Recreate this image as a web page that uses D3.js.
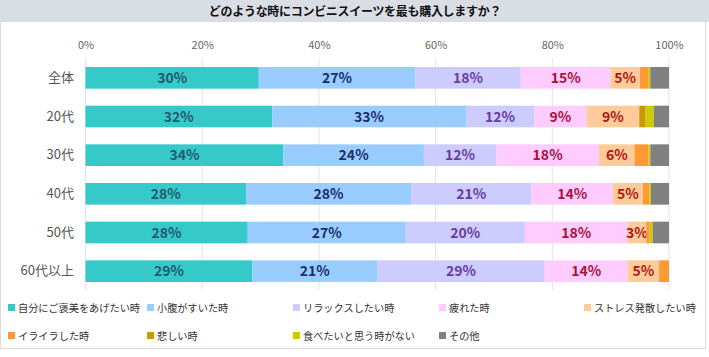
<!DOCTYPE html>
<html><head><meta charset="utf-8">
<script src="https://cdn.jsdelivr.net/npm/d3@7"></script>
<style>body{margin:0;background:#fff;}svg{display:block;font-family:"Noto Sans CJK JP","Noto Sans",sans-serif;}</style>
</head><body>
<svg id="c" width="709" height="357"></svg>
<script>
const title = "どのような時にコンビニスイーツを最も購入しますか？";
const categories = ["全体","20代","30代","40代","50代","60代以上"];
const seriesNames = ["自分にご褒美をあげたい時","小腹がすいた時","リラックスしたい時","疲れた時","ストレス発散したい時","イライラした時","悲しい時","食べたいと思う時がない","その他"];
const s1 = [29.7, 32.0, 33.9, 27.5, 27.8, 28.6];
const s2 = [26.8, 33.2, 24.1, 28.3, 27.1, 21.4];
const s3 = [18.1, 11.7, 12.4, 20.6, 20.4, 28.7];
const s4 = [15.4, 9.0, 17.6, 14.0, 17.6, 14.2];
const s5 = [5.0, 9.0, 6.1, 5.1, 3.2, 5.4];
const s6 = [1.4, 0.0, 2.4, 1.1, 0.6, 1.7];
const s7 = [0.1, 1.1, 0.0, 0.0, 0.0, 0.0];
const s8 = [0.3, 1.4, 0.3, 0.3, 0.5, 0.0];
const s9 = [3.2, 2.6, 3.2, 3.1, 2.8, 0.0];
const ticks = [0, 20, 40, 60, 80, 100];

const seriesValues = [s1,s2,s3,s4,s5,s6,s7,s8,s9];
const colors = ["#35c9c9","#99ccff","#ccccff","#ffccff","#ffcc99","#ff9933","#cc9900","#cccc00","#808080"];
const labelColors = ["#245a70","#1b2e6e","#6a3c9e","#a8123e","#b01818",null,null,null,null];

const svg = d3.select("#c");
svg.append("rect").attr("x",0.5).attr("y",0.5).attr("width",705).attr("height",348)
  .attr("fill","#fff").attr("stroke","#dcdcdc");
svg.append("rect").attr("x",0).attr("y",0).attr("width",709).attr("height",22).attr("fill","#d9dde4");
svg.append("text").attr("x",355).attr("y",16).attr("text-anchor","middle")
  .attr("font-size",12).attr("letter-spacing","-0.3").attr("font-weight","bold").attr("fill","#111").text(title);

const x = d3.scaleLinear().domain([0,100]).range([85.5,669]);
const y = d3.scaleBand().domain(categories).range([58.5,290.5]).paddingInner(0.44).paddingOuter(0.22);

svg.append("g").selectAll("line").data(ticks).join("line")
  .attr("x1",d=>x(d)).attr("x2",d=>x(d)).attr("y1",58).attr("y2",290)
  .attr("stroke","#e3e3e3").attr("stroke-width",1);

const ax = svg.append("g").attr("transform","translate(0,49)")
  .call(d3.axisTop(x).tickValues(ticks).tickFormat(d=>d+"%").tickSize(0).tickPadding(0));
ax.select(".domain").remove();
ax.selectAll("text").attr("font-size",11).attr("fill","#666").attr("font-family","'Noto Sans CJK JP',sans-serif");

const ay = svg.append("g").attr("transform","translate(74,0)")
  .call(d3.axisLeft(y).tickSize(0).tickPadding(0));
ay.select(".domain").remove();
ay.selectAll("text").attr("font-size",13).attr("fill","#555").attr("font-family","'Noto Sans CJK JP',sans-serif");

const rows = categories.map((c,i)=>{const o={cat:c}; seriesNames.forEach((s,j)=>o[s]=seriesValues[j][i]); return o;});
const stacked = d3.stack().keys(seriesNames)(rows);

stacked.forEach((layer,j)=>{
  const g = svg.append("g");
  g.selectAll("rect").data(layer).join("rect")
    .attr("x",d=>x(d[0])).attr("width",d=>Math.max(0,x(d[1])-x(d[0])))
    .attr("y",d=>y(d.data.cat)).attr("height",y.bandwidth())
    .attr("fill",colors[j]);
  if(labelColors[j]){
    g.selectAll("text").data(layer.filter(d=>d[1]-d[0]>=3)).join("text")
      .attr("x",d=>(x(d[0])+x(d[1]))/2).attr("y",d=>y(d.data.cat)+y.bandwidth()/2+5)
      .attr("text-anchor","middle").attr("font-size",14).attr("font-weight","bold")
      .attr("fill",labelColors[j]).text(d=>Math.round(d[1]-d[0])+"%");
  }
});

const legX = [8,147,293,439,584];
const legY = [308,336];
const lg = svg.append("g");
seriesNames.forEach((s,i)=>{
  const cx = legX[i%5], cy = legY[Math.floor(i/5)];
  lg.append("rect").attr("x",cx).attr("y",cy-4).attr("width",7).attr("height",7).attr("fill",colors[i]);
  lg.append("text").attr("x",cx+10).attr("y",cy+4).attr("font-size",10.2).attr("fill","#333").text(s);
});
</script>
</body></html>
